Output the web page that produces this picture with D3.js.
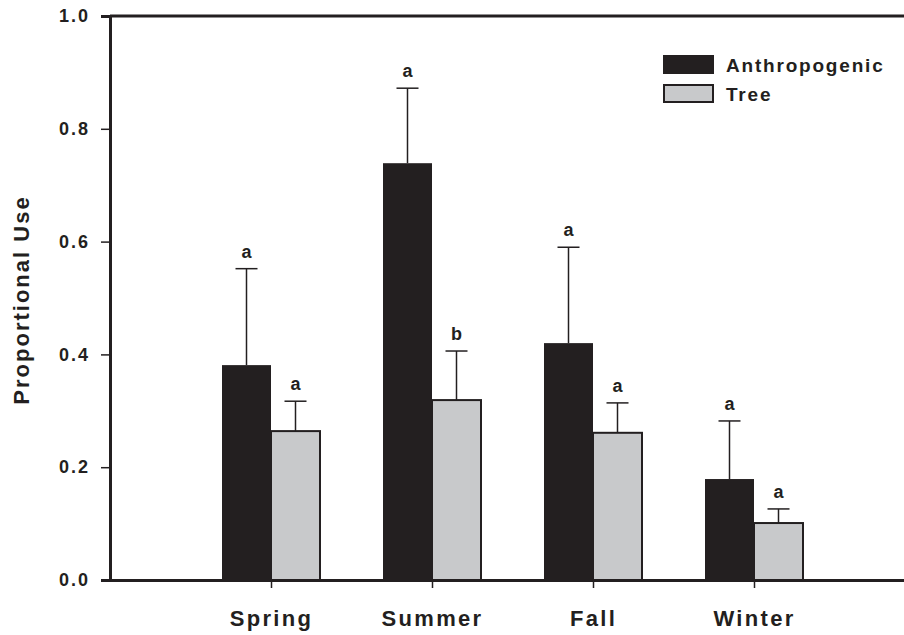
<!DOCTYPE html>
<html><head><meta charset="utf-8">
<script src="https://cdn.jsdelivr.net/npm/d3@7"></script>
<style>body{margin:0;background:#fff}svg{display:block}text{font-family:"Liberation Sans",Arial,sans-serif;font-weight:bold;fill:#231f20}</style>
</head><body>
<svg id="c" width="904" height="635"></svg>
<script>
const categories = ["Spring", "Summer", "Fall", "Winter"];
const anthroMean = [0.381, 0.739, 0.420, 0.179];
const anthroErr  = [0.171, 0.133, 0.170, 0.103];
const treeMean   = [0.264, 0.319, 0.261, 0.101];
const treeErr    = [0.053, 0.087, 0.053, 0.025];
const anthroLetters = ["a", "a", "a", "a"];
const treeLetters   = ["a", "b", "a", "a"];
const yTicks = [0, 0.2, 0.4, 0.6, 0.8, 1.0];
const seriesNames = ["Anthropogenic", "Tree"];

const svg = d3.select("#c");
const x = d3.scaleLinear().domain([0, 5]).range([110, 915]);
const y = d3.scaleLinear().domain([0, 1]).range([580, 16]);
const bw = 49;
const ink = "#231f20";
const font = '"Liberation Sans",Arial,sans-serif';

const series = [
  {name: seriesNames[0], mean: anthroMean, err: anthroErr, letters: anthroLetters, fill: ink, off: -1},
  {name: seriesNames[1], mean: treeMean, err: treeErr, letters: treeLetters, fill: "#c8c9cb", off: 0}
];

// error bars (behind bars)
series.forEach(s => {
  const g = svg.append("g");
  categories.forEach((c, i) => {
    const cx = x(i + 1) + s.off * bw + bw / 2;
    g.append("line").attr("x1", cx).attr("x2", cx).attr("y1", y(s.mean[i])).attr("y2", y(s.mean[i] + s.err[i]))
      .attr("stroke", ink).attr("stroke-width", 1.5);
    g.append("line").attr("x1", cx - 11).attr("x2", cx + 11).attr("y1", y(s.mean[i] + s.err[i])).attr("y2", y(s.mean[i] + s.err[i]))
      .attr("stroke", ink).attr("stroke-width", 1.5);
    g.append("text").attr("x", cx).attr("y", y(s.mean[i] + s.err[i]) - 11).attr("text-anchor", "middle")
      .attr("font-size", 18).text(s.letters[i]);
  });
});

// bars
series.forEach(s => {
  svg.append("g").selectAll("rect").data(s.mean).join("rect")
    .attr("x", (d, i) => x(i + 1) + s.off * bw)
    .attr("y", d => y(d))
    .attr("width", bw)
    .attr("height", d => y(0) - y(d))
    .attr("fill", s.fill)
    .attr("stroke", s.off === 0 ? ink : "none")
    .attr("stroke-width", 2);
});

// frame top
svg.append("line").attr("x1", x(0)).attr("x2", x(5)).attr("y1", y(1)).attr("y2", y(1)).attr("stroke", ink).attr("stroke-width", 3);

// y axis
const yAxis = svg.append("g").attr("transform", `translate(${x(0)},0)`)
  .call(d3.axisLeft(y).tickValues(yTicks).tickFormat(d3.format(".1f")).tickSize(9).tickPadding(11));
yAxis.select(".domain").attr("stroke", ink).attr("stroke-width", 3);
yAxis.selectAll(".tick line").attr("stroke", ink).attr("stroke-width", 1.5);
yAxis.selectAll(".tick text").attr("font-size", 18).attr("letter-spacing", 2).attr("font-family", font).attr("font-weight", "bold").attr("fill", ink);

// x axis
const xAxis = svg.append("g").attr("transform", `translate(0,${y(0)})`)
  .call(d3.axisBottom(x).tickValues([1, 2, 3, 4]).tickFormat(d => categories[d - 1]).tickSize(8).tickPadding(22).tickSizeOuter(0));
xAxis.select(".domain").attr("stroke", ink).attr("stroke-width", 3);
xAxis.selectAll(".tick line").attr("stroke", ink).attr("stroke-width", 1.5);
xAxis.selectAll(".tick text").attr("font-size", 22).attr("letter-spacing", 2.3).attr("font-family", font).attr("font-weight", "bold").attr("fill", ink);

// y label
svg.append("text").attr("transform", `translate(29,${y(0.5) + 2}) rotate(-90)`).attr("text-anchor", "middle")
  .attr("font-size", 22).attr("letter-spacing", 2).text("Proportional Use");

// legend
const lg = svg.append("g");
series.forEach((s, i) => {
  lg.append("rect").attr("x", 664).attr("y", 56 + i * 29).attr("width", 49).attr("height", 17)
    .attr("fill", s.fill).attr("stroke", ink).attr("stroke-width", 2);
  lg.append("text").attr("x", 726).attr("y", 72 + i * 29).attr("font-size", 19).attr("letter-spacing", 1.8).text(s.name);
});
</script>
</body></html>
